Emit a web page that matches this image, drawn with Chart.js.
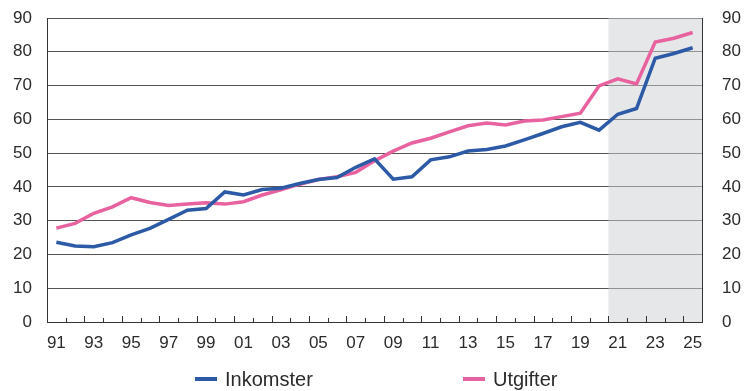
<!DOCTYPE html>
<html>
<head>
<meta charset="utf-8">
<script src="https://cdn.jsdelivr.net/npm/chart.js@4.4.1/dist/chart.umd.min.js"></script>
<style>
  body { margin: 0; background: #fff; }
  #wrap { position: relative; width: 745px; height: 391px; }
  .leg { position: absolute; top: 367px; display: flex; align-items: center;
         font: 20px "Liberation Sans", Arial, sans-serif; color: #2b2b2b; height: 24px; }
  .leg span.line { display: inline-block; width: 22px; height: 4px; margin-right: 8px; }
</style>
</head>
<body>
<div id="wrap">
  <canvas id="myGraph" width="745" height="391"></canvas>
  <div class="leg" style="left:195px"><span class="line" style="background:#2c5aa6"></span>Inkomster</div>
  <div class="leg" style="left:463px"><span class="line" style="background:#e8629f"></span>Utgifter</div>
</div>
<script>
const graph = document.getElementById('myGraph');

const years = ['91','92','93','94','95','96','97','98','99','00',
  '01','02','03','04','05','06','07','08','09','10',
  '11','12','13','14','15','16','17','18','19','20',
  '21','22','23','24','25'];

const inkomster = [23.6, 22.5, 22.3, 23.5, 25.8, 27.7, 30.4, 33.1, 33.6, 38.5,
  37.6, 39.2, 39.6, 41.0, 42.2, 42.8, 45.8, 48.3, 42.3, 43.0,
  48.0, 48.9, 50.6, 51.1, 52.1, 53.9, 55.8, 57.8, 59.1, 56.8,
  61.5, 63.2, 78.1, 79.5, 81.2];

const utgifter = [27.8, 29.2, 32.2, 34.1, 36.8, 35.4, 34.5, 34.9, 35.3, 34.9,
  35.6, 37.6, 39.1, 40.8, 42.2, 43.0, 44.3, 47.7, 50.6, 53.0,
  54.4, 56.3, 58.1, 58.9, 58.3, 59.5, 59.8, 60.8, 61.8, 69.9,
  72.0, 70.5, 82.9, 84.0, 85.7];

const yTicks = [0, 10, 20, 30, 40, 50, 60, 70, 80, 90];

// gray area from 2021 onward
const shadeFrom = 30;

const font = { family: '"Liberation Sans", Arial, sans-serif', size: 17 };
const textColor = '#2b2b2b';

const shadePlugin = {
  id: 'shade',
  beforeDatasetsDraw(chart) {
    const { ctx, chartArea, scales } = chart;
    const x0 = (scales.x.getPixelForTick(shadeFrom - 1) + scales.x.getPixelForTick(shadeFrom)) / 2;
    ctx.save();
    ctx.fillStyle = 'rgba(205, 207, 212, 0.5)';
    ctx.fillRect(x0, chartArea.top, chartArea.right - x0, chartArea.bottom - chartArea.top);
    ctx.restore();
  }
};

// small inward tick marks on the x axis between years
const xTickPlugin = {
  id: 'xticks',
  afterDatasetsDraw(chart) {
    const { ctx, chartArea, scales } = chart;
    ctx.save();
    ctx.strokeStyle = '#333';
    ctx.lineWidth = 1;
    ctx.beginPath();
    for (let i = 0; i < years.length - 1; i++) {
      const x = Math.round((scales.x.getPixelForTick(i) + scales.x.getPixelForTick(i + 1)) / 2) + 0.5;
      const len = i % 2 === 1 ? 6 : 4;
      ctx.moveTo(x, chartArea.bottom);
      ctx.lineTo(x, chartArea.bottom - len);
    }
    ctx.stroke();
    ctx.restore();
  }
};

const yAxis = (position, pad, width) => ({
  position: position,
  min: 0,
  max: 90,
  afterBuildTicks: (scale) => { scale.ticks = yTicks.map(v => ({ value: v })); },
  afterFit: (scale) => { scale.width = width; scale.paddingTop = 0; scale.paddingBottom = 0; },
  grid: { color: '#555', lineWidth: 1, drawTicks: false, display: position === 'left' },
  border: { display: true, color: '#333', width: 1 },
  ticks: { padding: pad, color: textColor, font: font }
});

new Chart(graph, {
  type: 'line',
  data: {
    labels: years,
    datasets: [{
      label: 'Inkomster',
      data: inkomster,
      borderColor: '#2c5aa6',
      borderWidth: 3.5,
      pointRadius: 0,
      tension: 0,
      yAxisID: 'y'
    }, {
      label: 'Utgifter',
      data: utgifter,
      borderColor: '#e8629f',
      borderWidth: 3.5,
      pointRadius: 0,
      tension: 0,
      yAxisID: 'y'
    }]
  },
  options: {
    responsive: false,
    animation: false,
    layout: { padding: { top: 18, bottom: 0, left: 0, right: 0 } },
    plugins: { legend: { display: false }, tooltip: { enabled: false } },
    scales: {
      x: {
        offset: true,
        afterFit: (scale) => { scale.height = 69; },
        grid: { display: false },
        border: { display: true, color: '#333', width: 1 },
        ticks: {
          autoSkip: false,
          maxRotation: 0,
          padding: 3,
          color: textColor,
          font: font,
          callback: (v, i) => (i % 2 === 0 ? years[i] : '')
        }
      },
      y: yAxis('left', 15, 47),
      y2: yAxis('right', 20, 43)
    }
  },
  plugins: [shadePlugin, xTickPlugin]
});
</script>
</body>
</html>
